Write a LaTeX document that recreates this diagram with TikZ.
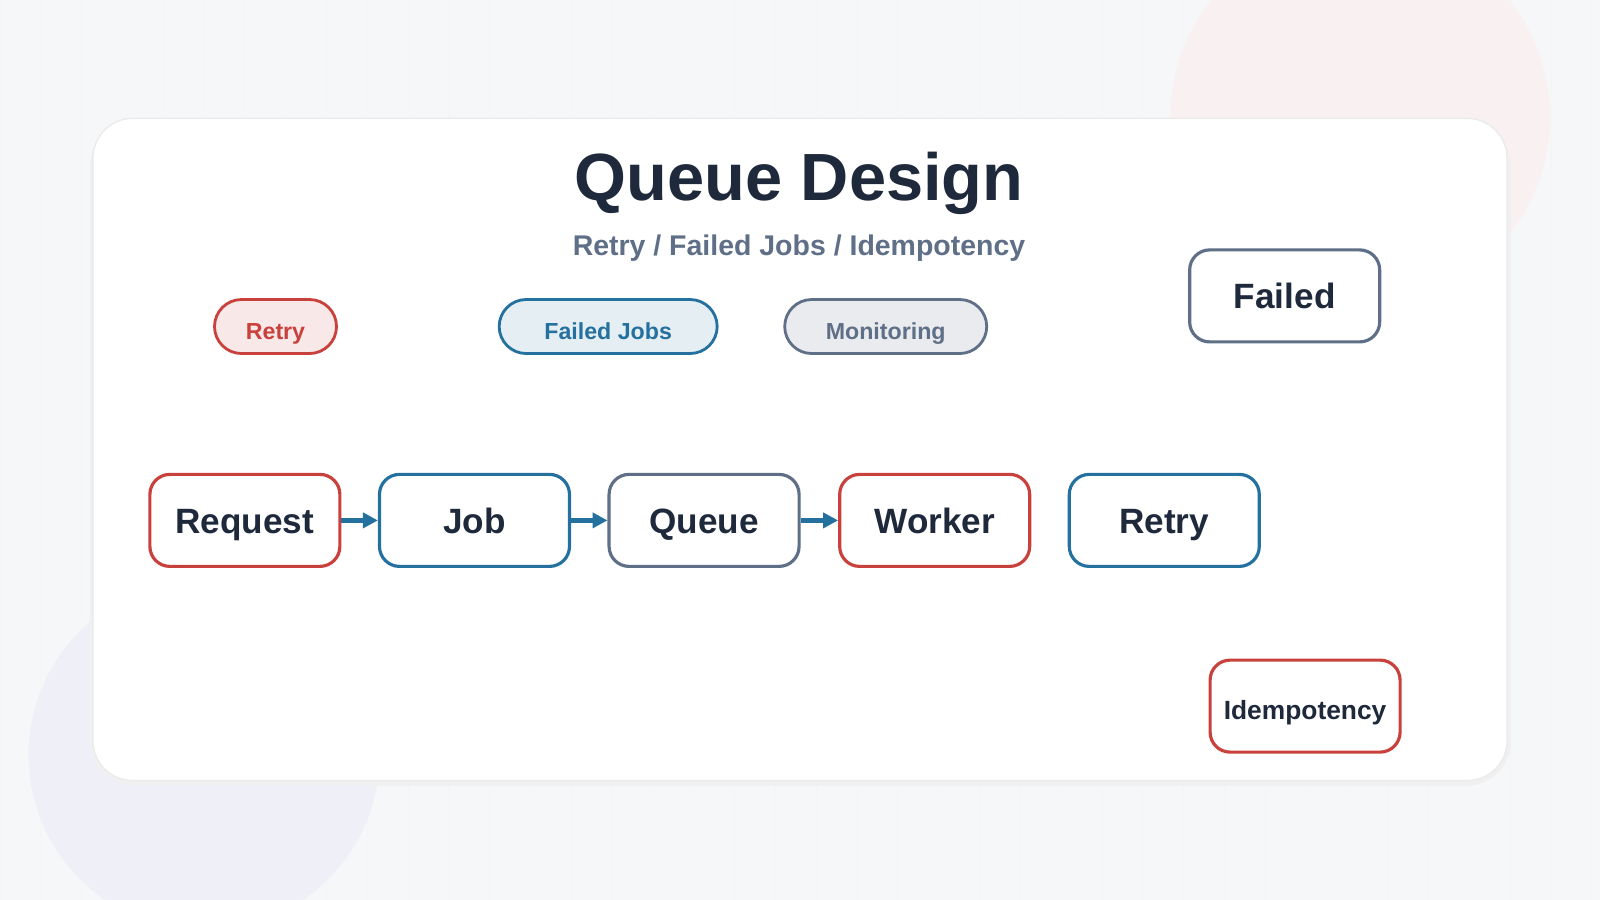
\documentclass[tikz,border=0pt]{standalone}
\usepackage{fontspec}
\setmainfont{Liberation Sans}
\usetikzlibrary{arrows.meta}
\definecolor{ink}{HTML}{1E293B}
\definecolor{qred}{HTML}{C9413C}
\definecolor{qblue}{HTML}{24709F}
\definecolor{qgray}{HTML}{5F6F87}
\definecolor{bg}{HTML}{F6F7F9}
\tikzset{
  stage/.style={draw, line width=0.9pt, rounded corners=0.2cm, minimum width=1.9cm, minimum height=0.92cm, text height=0.74em, text depth=0pt, font=\fontsize{10}{12}\selectfont\bfseries, text=ink},
  tag/.style={draw, line width=0.8pt, rounded corners=0.27cm, minimum height=0.54cm, inner ysep=0pt, text height=0.74em, text depth=0pt, font=\fontsize{6.6}{8}\selectfont\bfseries},
  flow/.style={qblue, line width=1.2pt, -{Triangle[length=0.15cm,width=0.15cm]}}
}
\begin{document}
\begin{tikzpicture}[x=1cm/98, y=-1cm/98]
\useasboundingbox (0,0) rectangle (1568,882);
% background
\fill[bg] (0,0) rectangle (1568,882);
\draw[black!4, line width=0.3pt, step=40] (0,0) grid (1568,882);
\fill[red!40!gray!8] (1333,115) circle (186);
\fill[blue!40!gray!9] (200,740) circle (172);
% card
\fill[black!6, rounded corners=0.45cm] (88,120) rectangle (1481,770);
\filldraw[fill=white, draw=black!8, line width=0.4pt, rounded corners=0.4cm] (91,116) rectangle (1477,765);
% title
\node[font=\fontsize{19}{23}\selectfont\bfseries, text=ink] (title) at (783,180) {Queue Design};
\node[font=\fontsize{8.1}{10}\selectfont\bfseries, text=qgray] (subtitle) at (783,243) {Retry / Failed Jobs / Idempotency};
% tags
\node[tag, draw=qred, fill=qred!12, text=qred, minimum width=1.22cm] (tagretry) at (270,320) {Retry};
\node[tag, draw=qblue, fill=qblue!12, text=qblue, minimum width=2.18cm] (tagfailed) at (596,320) {Failed Jobs};
\node[tag, draw=qgray, fill=qgray!14, text=qgray, minimum width=2.02cm] (tagmon) at (868,320) {Monitoring};
% stages
\node[stage, draw=qred] (request) at (240,510) {Request};
\node[stage, draw=qblue] (job) at (465,510) {Job};
\node[stage, draw=qgray] (queue) at (690,510) {Queue};
\node[stage, draw=qred] (worker) at (916,510) {Worker};
\node[stage, draw=qblue] (retry) at (1141,510) {Retry};
\node[stage, draw=qgray] (failed) at (1259,290) {Failed};
\node[stage, draw=qred, font=\fontsize{7.5}{9}\selectfont\bfseries] (idem) at (1279,692) {Idempotency};
% arrows
\draw[flow] (request) -- (job);
\draw[flow] (job) -- (queue);
\draw[flow] (queue) -- (worker);
\end{tikzpicture}
\end{document}
